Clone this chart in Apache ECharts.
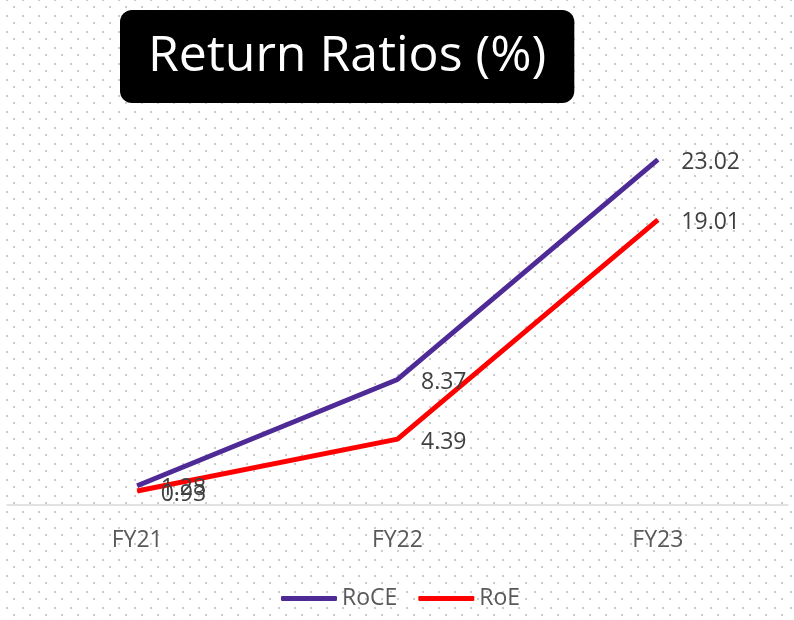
<!DOCTYPE html>
<html>
<head>
<meta charset="utf-8">
<script src="https://cdn.jsdelivr.net/npm/echarts@6/dist/echarts.min.js"></script>
<style>
  html, body { margin: 0; padding: 0; }
  body {
    width: 794px; height: 620px; background-color: #ffffff;
    background-image:
      radial-gradient(circle at center, #cdcdcd 0, #cdcdcd 1px, transparent 1.6px),
      radial-gradient(circle at center, #cdcdcd 0, #cdcdcd 1px, transparent 1.6px);
    background-size: 16px 16px, 16px 16px;
    background-position: 6px -1px, -1px 8px;
  }
  #chart { width: 794px; height: 620px; }
</style>
</head>
<body>
<div id="chart"></div>
<script>
const categories = ['FY21', 'FY22', 'FY23'];
const roce = [1.28, 8.37, 23.02];
const roe = [0.93, 4.39, 19.01];
const titleText = 'Return Ratios (%)';

const chart = echarts.init(document.getElementById('chart'), null, { renderer: 'canvas' });
const font = "'Open Sans', 'Noto Sans', sans-serif";
const labelStyle = {
  show: true, position: 'right', distance: 23, offset: [0, 3],
  fontSize: 23, color: '#404040', fontFamily: font,
  formatter: p => p.value.toFixed(2)
};
chart.setOption({
  backgroundColor: 'transparent',
  animation: false,
  title: {
    text: titleText,
    left: 120, top: 10,
    backgroundColor: '#000000',
    borderRadius: 12,
    padding: [18, 28, 17, 28],
    textStyle: { color: '#ffffff', fontSize: 50, fontWeight: 'normal', fontFamily: font, lineHeight: 58 }
  },
  legend: {
    bottom: 5, left: 276,
    itemWidth: 56, itemHeight: 5, itemGap: 21,
    icon: 'roundRect',
    textStyle: { fontSize: 23, color: '#595959', fontFamily: font },
    data: ['RoCE', 'RoE']
  },
  grid: { left: 7, right: 6, top: 130, bottom: 115, containLabel: false },
  xAxis: {
    type: 'category', data: categories, boundaryGap: true,
    axisLine: { lineStyle: { color: '#d9d9d9', width: 1.5 } },
    axisTick: { show: false },
    axisLabel: { fontSize: 23, color: '#595959', fontFamily: font, margin: 24 }
  },
  yAxis: { type: 'value', min: 0, max: 25, show: false, splitLine: { show: false } },
  series: [
    {
      name: 'RoCE', type: 'line', data: roce,
      symbol: 'circle', symbolSize: 1, showSymbol: true,
      lineStyle: { color: '#4E2A96', width: 5 },
      itemStyle: { color: '#4E2A96' },
      label: labelStyle
    },
    {
      name: 'RoE', type: 'line', data: roe,
      symbol: 'circle', symbolSize: 1, showSymbol: true,
      lineStyle: { color: '#FF0000', width: 5 },
      itemStyle: { color: '#FF0000' },
      label: labelStyle
    }
  ]
});
</script>
</body>
</html>
